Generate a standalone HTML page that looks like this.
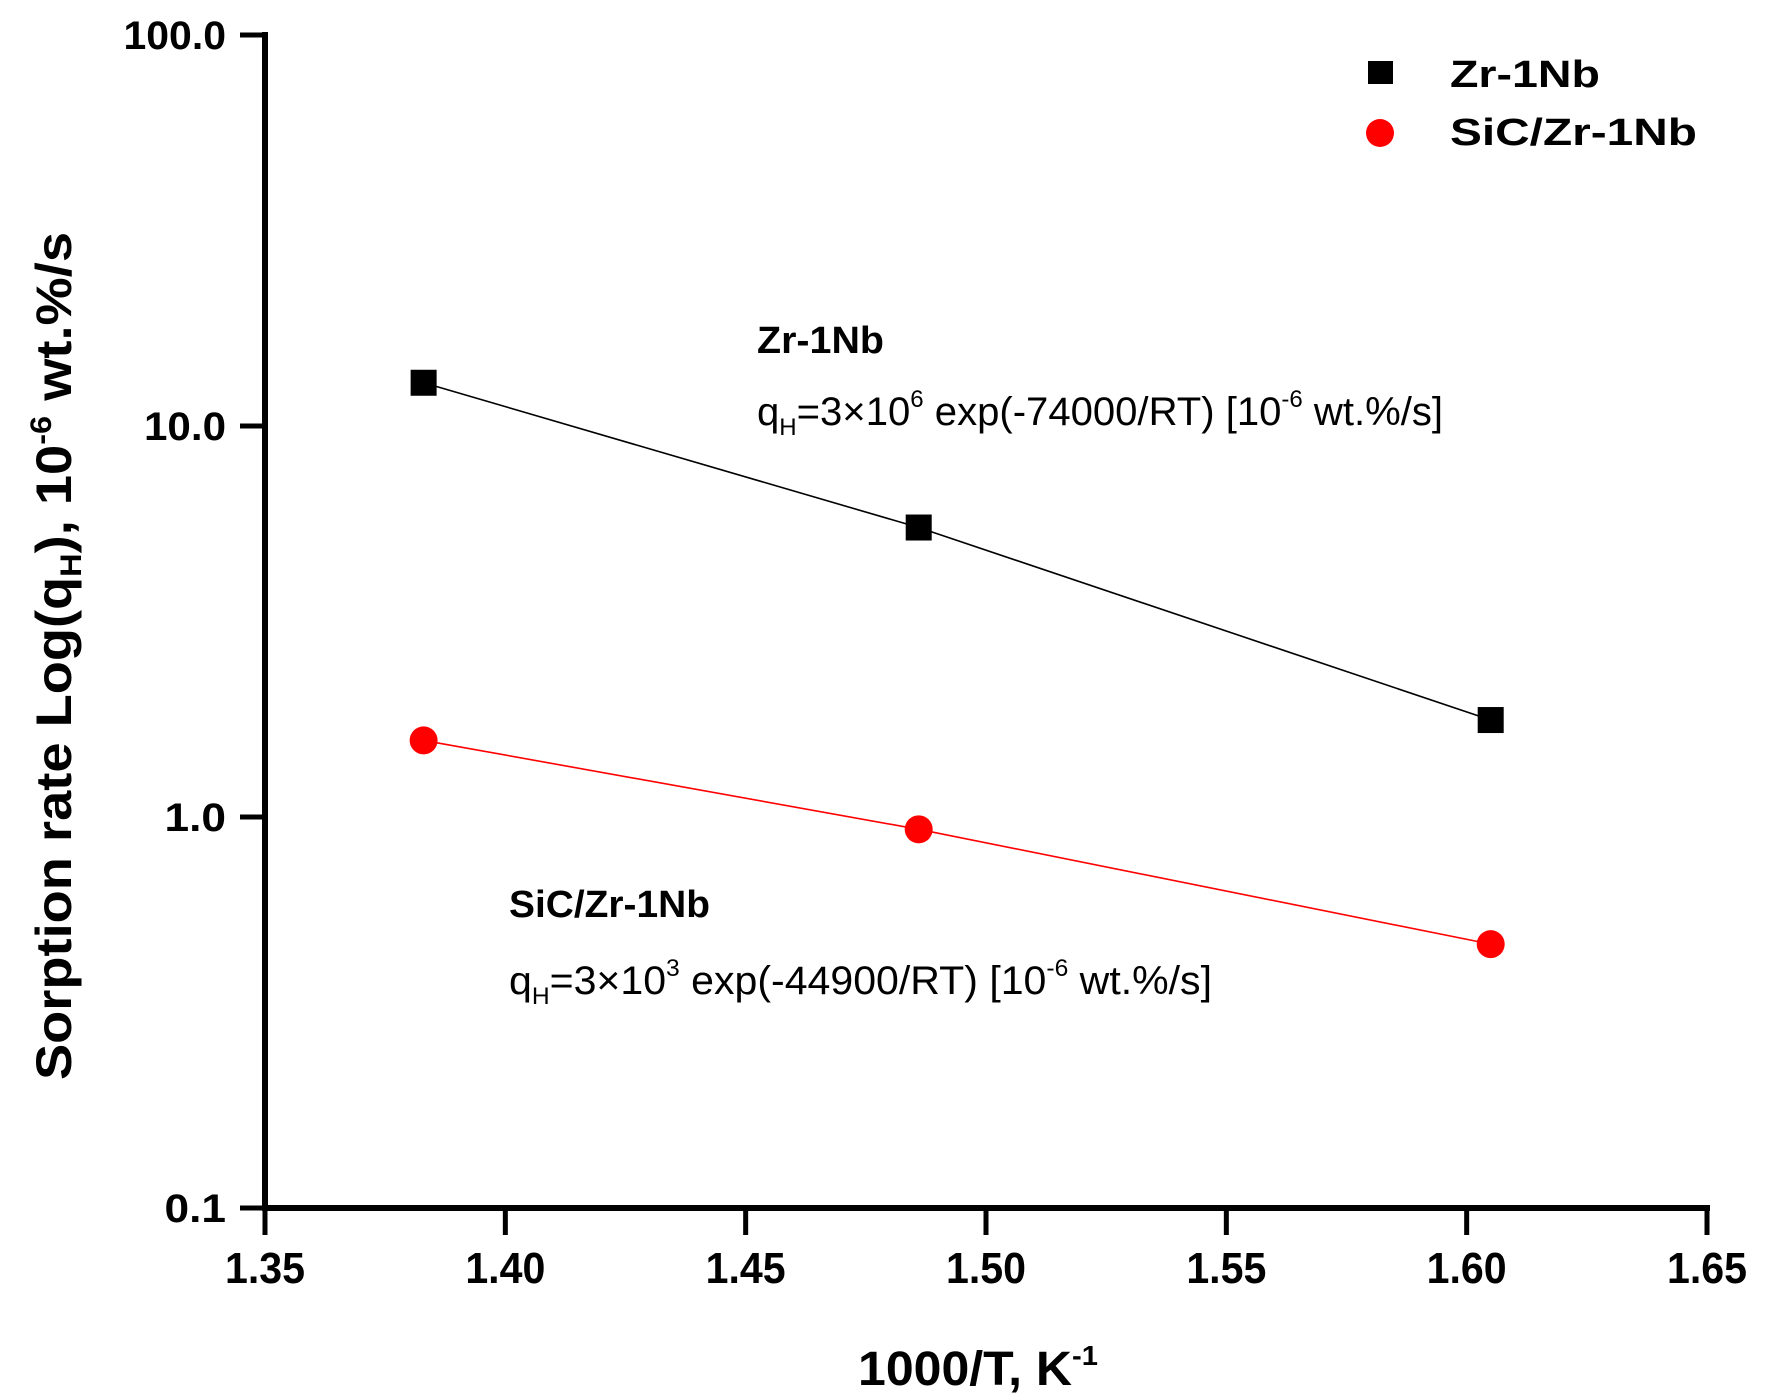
<!DOCTYPE html>
<html><head><meta charset="utf-8"><style>
html,body{margin:0;padding:0;background:#fff;}
svg{display:block;font-family:"Liberation Sans",Arial,sans-serif;}
</style></head><body>
<svg id="chart" width="1765" height="1400" viewBox="0 0 1765 1400" xmlns="http://www.w3.org/2000/svg">
<rect width="1765" height="1400" fill="#fff"/>
<g id="axes"></g>
<g id="series"></g>
<g transform="translate(71,656) rotate(-90)">
<text x="0" y="0" text-anchor="middle" font-weight="bold" font-size="50" textLength="848" lengthAdjust="spacingAndGlyphs">Sorption rate Log(q<tspan font-size="30" dy="10">H</tspan><tspan dy="-10">), 10</tspan><tspan font-size="30" dy="-20">-6</tspan><tspan dy="20"> wt.%/s</tspan></text>
</g>
<text x="858" y="1385" font-weight="bold" font-size="48" textLength="240" lengthAdjust="spacingAndGlyphs">1000/T, K<tspan font-size="28" dy="-20">-1</tspan></text>
<g>
<rect x="1368" y="61" width="25" height="23" fill="#000"/>
<text x="1450" y="87" font-weight="bold" font-size="38" textLength="150" lengthAdjust="spacingAndGlyphs">Zr-1Nb</text>
<circle cx="1380" cy="133" r="14" fill="#ff0000"/>
<text x="1450" y="145" font-weight="bold" font-size="38" textLength="247" lengthAdjust="spacingAndGlyphs">SiC/Zr-1Nb</text>
</g>
<g>
<text x="757" y="353" font-weight="bold" font-size="38" textLength="127" lengthAdjust="spacingAndGlyphs">Zr-1Nb</text>
<text x="757" y="425" font-size="40" textLength="686" lengthAdjust="spacingAndGlyphs">q<tspan font-size="24" dy="10">H</tspan><tspan dy="-10">=3×10</tspan><tspan font-size="24" dy="-18">6</tspan><tspan dy="18"> exp(-74000/RT) [10</tspan><tspan font-size="24" dy="-18">-6</tspan><tspan dy="18"> wt.%/s]</tspan></text>
</g>
<g>
<text x="509" y="917" font-weight="bold" font-size="38" textLength="201" lengthAdjust="spacingAndGlyphs">SiC/Zr-1Nb</text>
<text x="509" y="994" font-size="40" textLength="703" lengthAdjust="spacingAndGlyphs">q<tspan font-size="24" dy="10">H</tspan><tspan dy="-10">=3×10</tspan><tspan font-size="24" dy="-18">3</tspan><tspan dy="18"> exp(-44900/RT) [10</tspan><tspan font-size="24" dy="-18">-6</tspan><tspan dy="18"> wt.%/s]</tspan></text>
</g>
</svg>
<script>
const xTicks = [1.35, 1.40, 1.45, 1.50, 1.55, 1.60, 1.65];
const xTickLabels = ["1.35","1.40","1.45","1.50","1.55","1.60","1.65"];
const yTicks = [0.1, 1, 10, 100];
const yTickLabels = ["0.1","1.0","10.0","100.0"];
const xValues = [1.383, 1.486, 1.605];
const zrValues = [12.9, 5.5, 1.77];
const sicValues = [1.57, 0.93, 0.473];

const NS = "http://www.w3.org/2000/svg";
const X0 = 265, X1 = 1707, Y0 = 1208, Y1 = 35;
function xs(v){ return X0 + (v - 1.35) / 0.30 * (X1 - X0); }
function ys(v){ return Y0 - (Math.log10(v) + 1) / 3 * (Y0 - Y1); }
function mk(tag, attrs, parent){
  const e = document.createElementNS(NS, tag);
  for (const k in attrs) e.setAttribute(k, attrs[k]);
  parent.appendChild(e); return e;
}
const axes = document.getElementById('axes');
const series = document.getElementById('series');

let el = mk('line', {x1:X0, y1:Y1-3, x2:X0, y2:Y0+3, stroke:'#000', 'stroke-width':6}, axes);


el = mk('line', {x1:X0-3, y1:Y0, x2:X1+3, y2:Y0, stroke:'#000', 'stroke-width':6}, axes);



xTicks.forEach((t, i) => {
  const x = xs(t);
  const tk = mk('line', {x1:x, y1:Y0, x2:x, y2:Y0+27, stroke:'#000', 'stroke-width':5}, axes);
  
  
  const lb = mk('text', {x:x, y:1283, 'text-anchor':'middle', 'font-weight':'bold', 'font-size':44, textLength:80, lengthAdjust:'spacingAndGlyphs'}, axes);
  lb.textContent = xTickLabels[i];
  
  
});
yTicks.forEach((t, i) => {
  const y = ys(t);
  const tk = mk('line', {x1:X0-25, y1:y, x2:X0, y2:y, stroke:'#000', 'stroke-width':5}, axes);
  
  
  const lb = mk('text', {x:226, y:y+14, 'text-anchor':'end', 'font-weight':'bold', 'font-size':40, textLength:yTickLabels[i].length*20.5, lengthAdjust:'spacingAndGlyphs'}, axes);
  lb.textContent = yTickLabels[i];
  
  
});

function drawLine(vals, color, name){
  const pts = xValues.map((x, i) => xs(x) + ',' + ys(vals[i])).join(' ');
  const pl = mk('polyline', {points:pts, fill:'none', stroke:color, 'stroke-width':1.6}, series);
  
  
}
drawLine(zrValues, '#000', 'zr1nb-fit-line');
drawLine(sicValues, '#ff0000', 'sic-fit-line');
xValues.forEach((x, i) => {
  const r = mk('rect', {x:xs(x)-13, y:ys(zrValues[i])-13, width:26, height:26, fill:'#000'}, series);
  
  
  const c = mk('circle', {cx:xs(x), cy:ys(sicValues[i]), r:14, fill:'#ff0000'}, series);
  
  
});
</script>
</body></html>
